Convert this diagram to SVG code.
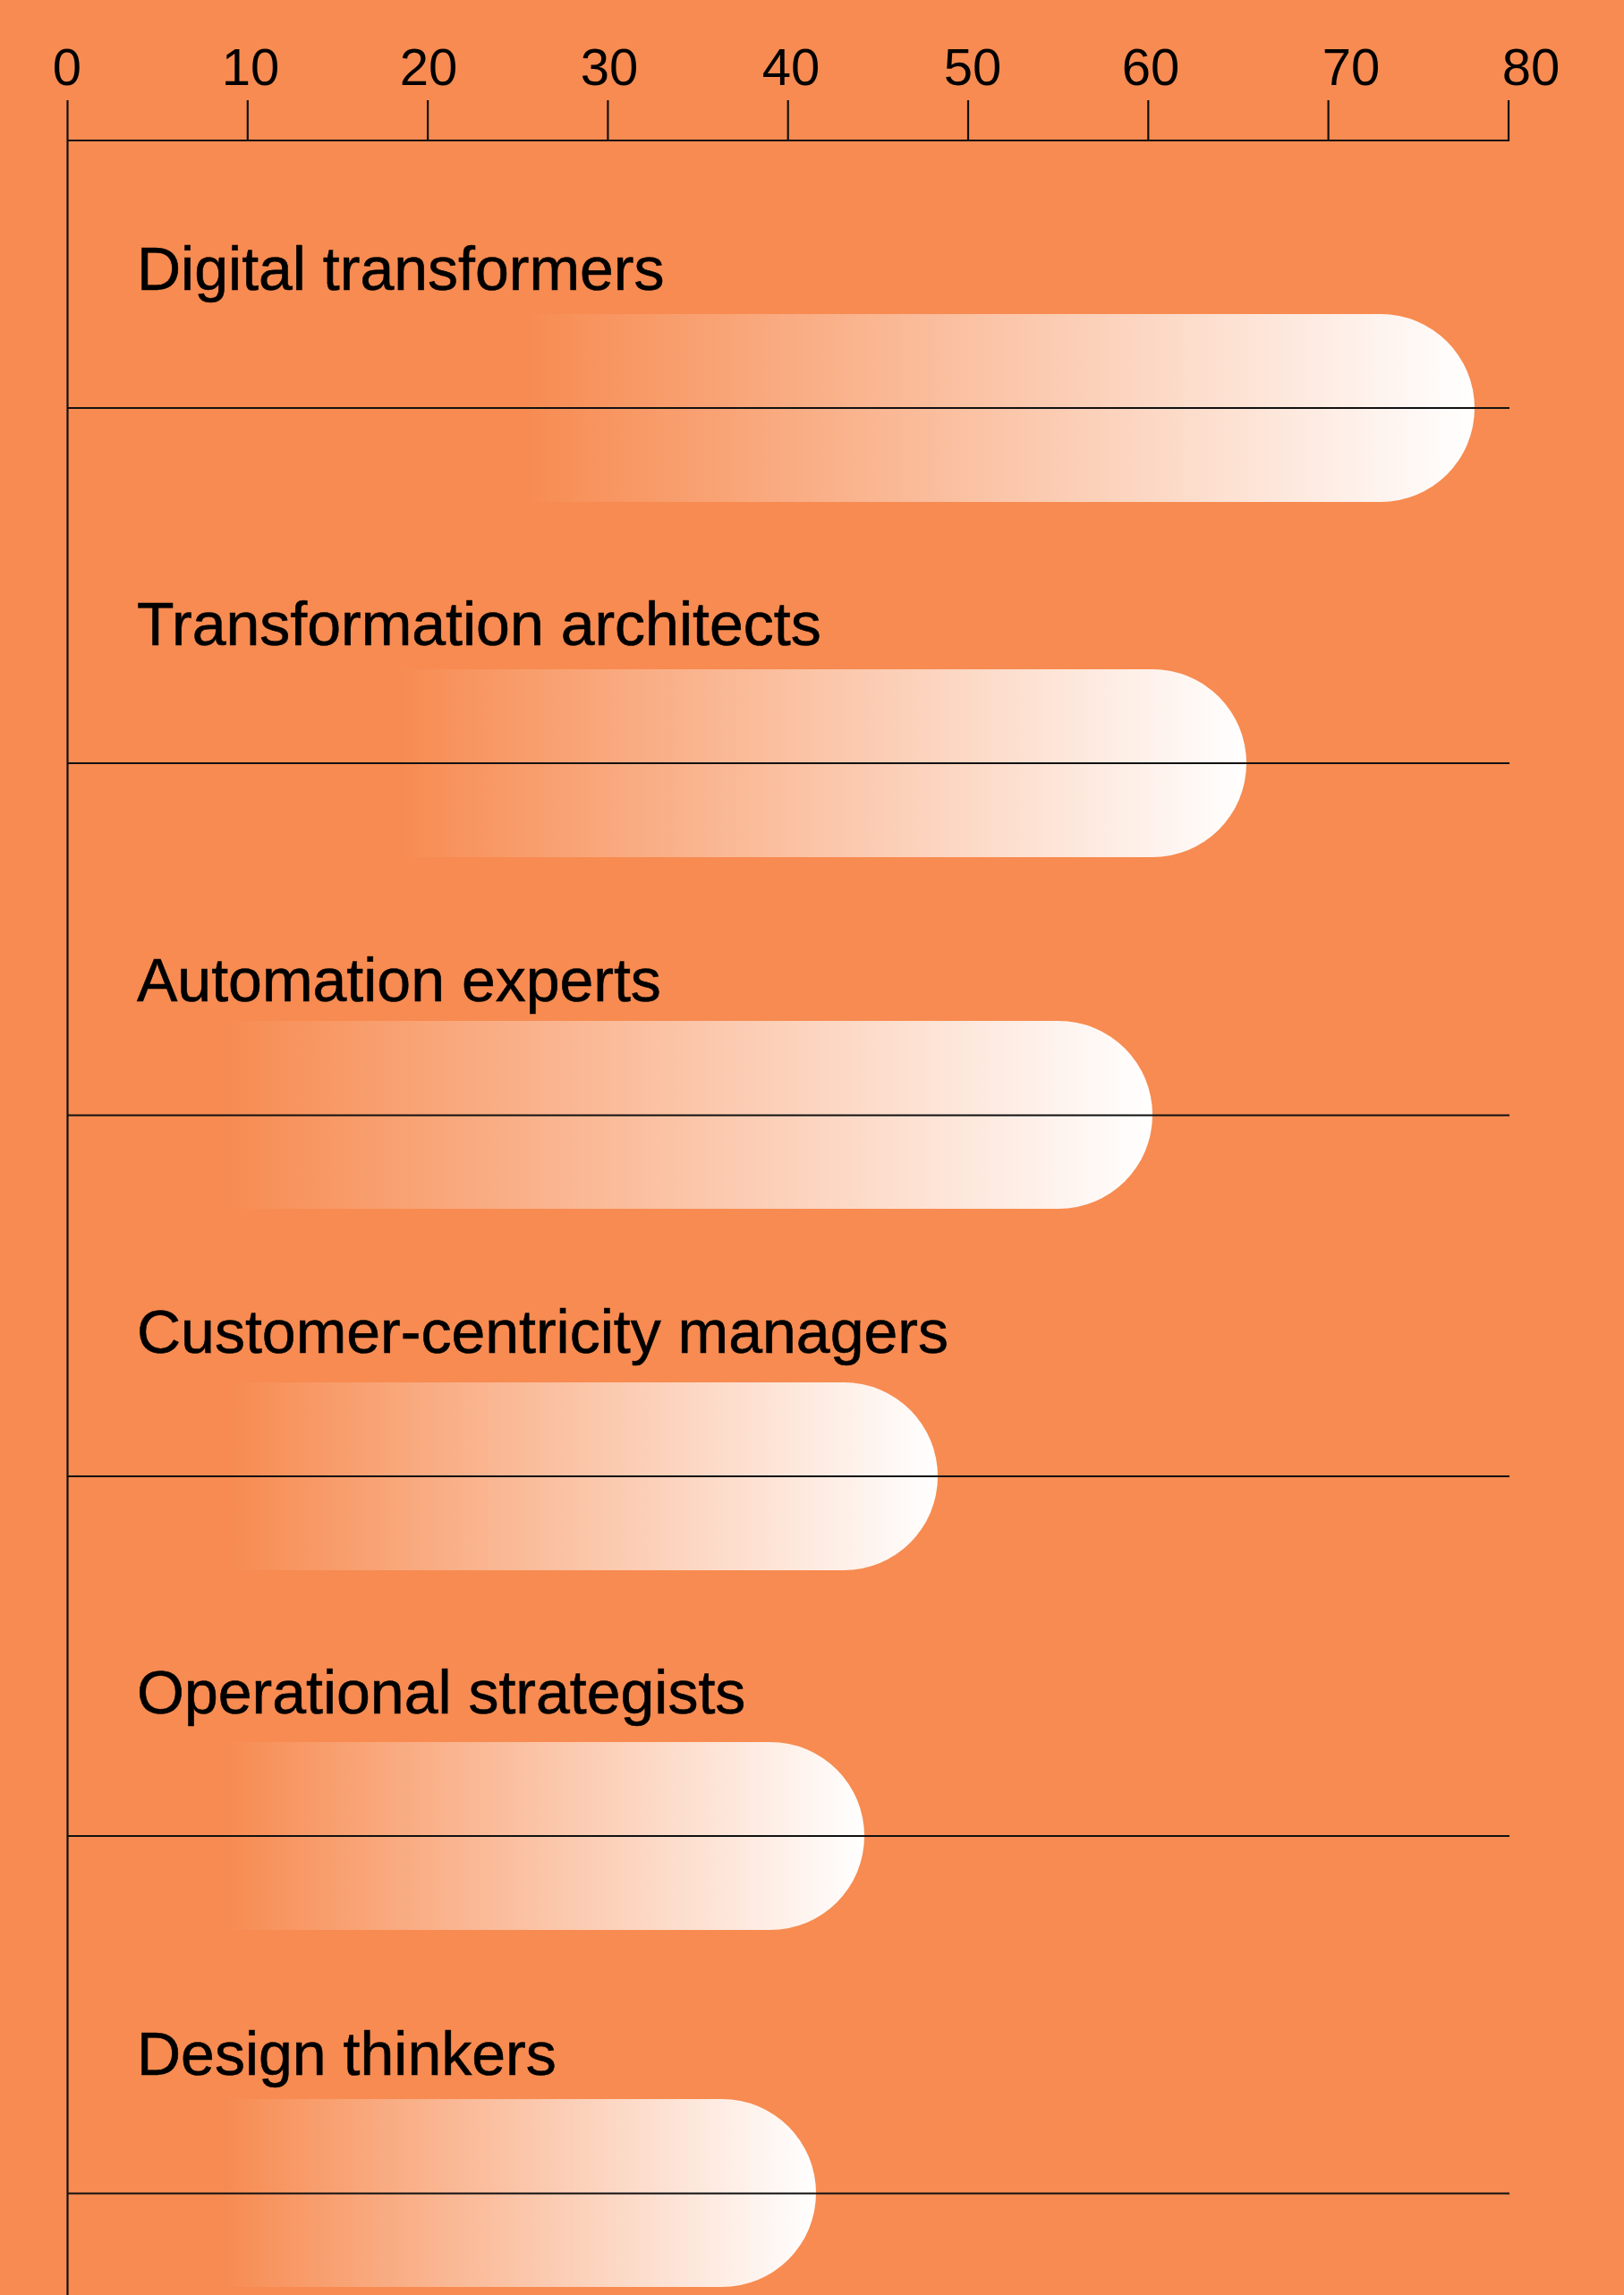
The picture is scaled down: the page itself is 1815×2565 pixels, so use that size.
<svg xmlns="http://www.w3.org/2000/svg" width="1815" height="2565" viewBox="0 0 1815 2565">
  <defs>
    <linearGradient id="barGrad" x1="0" y1="0" x2="1" y2="0">
      <stop offset="0" stop-color="#ffffff" stop-opacity="0"/>
      <stop offset="1" stop-color="#ffffff" stop-opacity="1"/>
    </linearGradient>
  </defs>
  <style>
    .bg { fill: #F78B51; }
    .ax { stroke: #111111; stroke-width: 2.2; fill: none; }
    .tick { font-family: "Liberation Sans", Arial, sans-serif; font-size: 58px; fill: #000000; text-anchor: middle; }
    .lbl { font-family: "Liberation Sans", Arial, sans-serif; font-size: 68px; fill: #000000; stroke: #000000; stroke-width: 0.6; }
    .bar { fill: url(#barGrad); }
  </style>
  <rect class="bg" x="0" y="0" width="1815" height="2565"/>

  <g id="axis">
    <line class="ax" x1="75.5" y1="112" x2="75.5" y2="2565"/>
    <line class="ax" x1="75.5" y1="157" x2="1687" y2="157"/>
    <line class="ax" x1="276.8" y1="112" x2="276.8" y2="157"/>
    <line class="ax" x1="478.1" y1="112" x2="478.1" y2="157"/>
    <line class="ax" x1="679.4" y1="112" x2="679.4" y2="157"/>
    <line class="ax" x1="880.7" y1="112" x2="880.7" y2="157"/>
    <line class="ax" x1="1082" y1="112" x2="1082" y2="157"/>
    <line class="ax" x1="1283.3" y1="112" x2="1283.3" y2="157"/>
    <line class="ax" x1="1484.6" y1="112" x2="1484.6" y2="157"/>
    <line class="ax" x1="1686" y1="112" x2="1686" y2="158"/>
    <text class="tick" x="75" y="95">0</text>
    <text class="tick" x="280" y="95">10</text>
    <text class="tick" x="479" y="95">20</text>
    <text class="tick" x="681" y="95">30</text>
    <text class="tick" x="884" y="95">40</text>
    <text class="tick" x="1087" y="95">50</text>
    <text class="tick" x="1286" y="95">60</text>
    <text class="tick" x="1510" y="95">70</text>
    <text class="tick" x="1711" y="95">80</text>
  </g>

  <g id="row1">
    <path class="bar" d="M580 351 H1543 A105 105 0 0 1 1543 561 H580 Z"/>
    <text class="lbl" x="153" y="324">Digital transformers</text>
  </g>
  <g id="row2">
    <path class="bar" d="M440 748 H1288 A105 105 0 0 1 1288 958 H440 Z"/>
    <text class="lbl" x="153" y="721">Transformation architects</text>
  </g>
  <g id="row3">
    <path class="bar" d="M245 1141 H1183 A105 105 0 0 1 1183 1351 H245 Z"/>
    <text class="lbl" x="153" y="1119">Automation experts</text>
  </g>
  <g id="row4">
    <path class="bar" d="M255 1545 H943 A105 105 0 0 1 943 1755 H255 Z"/>
    <text class="lbl" x="153" y="1512">Customer-centricity managers</text>
  </g>
  <g id="row5">
    <path class="bar" d="M249 1947 H861 A105 105 0 0 1 861 2157 H249 Z"/>
    <text class="lbl" x="153" y="1915">Operational strategists</text>
  </g>
  <g id="row6">
    <path class="bar" d="M245 2346 H807 A105 105 0 0 1 807 2556 H245 Z"/>
    <text class="lbl" x="153" y="2319">Design thinkers</text>
  </g>

  <g id="connectors">
    <line class="ax" x1="75.5" y1="456" x2="1687" y2="456"/>
    <line class="ax" x1="75.5" y1="853" x2="1687" y2="853"/>
    <line class="ax" x1="75.5" y1="1246.5" x2="1687" y2="1246.5"/>
    <line class="ax" x1="75.5" y1="1650" x2="1687" y2="1650"/>
    <line class="ax" x1="75.5" y1="2052" x2="1687" y2="2052"/>
    <line class="ax" x1="75.5" y1="2451.5" x2="1687" y2="2451.5"/>
  </g>
</svg>
